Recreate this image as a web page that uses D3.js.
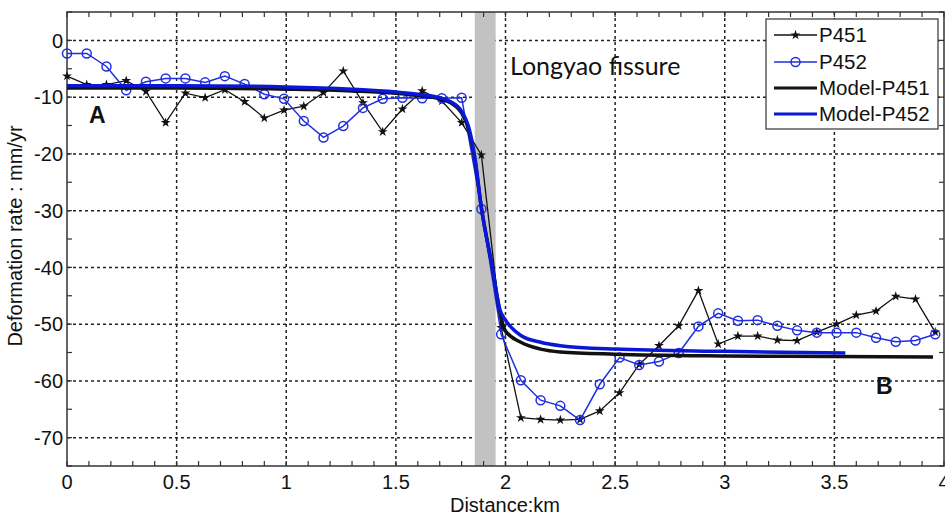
<!DOCTYPE html>
<html>
<head>
<meta charset="utf-8">
<script src="https://cdn.jsdelivr.net/npm/d3@7"></script>
<style>
  body { margin: 0; background: #fff; }
  svg { display: block; }
  text { font-family: "Liberation Sans", Arial, sans-serif; fill: #111; }
</style>
</head>
<body>
<div id="chart"></div>
<script>
// distance along profile (km), sampled points
var dist = [0.00,0.09,0.18,0.27,0.36,0.45,0.54,0.63,0.72,0.81,0.90,0.99,1.08,1.17,1.26,1.35,1.44,1.53,1.62,1.71,1.80,1.89,1.98,2.07,2.16,2.25,2.34,2.43,2.52,2.61,2.70,2.79,2.88,2.97,3.06,3.15,3.24,3.33,3.42,3.51,3.60,3.69,3.78,3.87,3.96];

var p451 = [-6.3,-7.8,-7.8,-7.1,-9.0,-14.5,-9.3,-10.1,-8.7,-10.8,
            -13.7,-12.3,-11.6,-9.2,-5.4,-11.0,-16.1,-12.1,-8.9,-10.7,
            -14.5,-20.2,-50.6,-66.5,-66.8,-66.9,-66.8,-65.3,-62.1,-57.1,
            -53.8,-50.3,-44.1,-53.5,-52.1,-52.1,-52.8,-52.9,-51.4,-50.0,
            -48.4,-47.7,-45.1,-45.6,-51.4];

var p452 = [-2.3,-2.3,-4.6,-8.8,-7.3,-6.7,-6.7,-7.4,-6.3,-7.7,
            -9.5,-10.3,-14.2,-17.1,-15.1,-11.9,-10.3,-10.1,-10.2,-10.2,
            -10.1,-29.7,-51.8,-59.9,-63.4,-64.4,-66.9,-60.6,-55.9,-57.2,
            -56.6,-55.1,-50.4,-48.1,-49.4,-49.3,-50.3,-51.1,-51.5,-51.5,
            -51.5,-52.4,-53.1,-52.9,-51.8];

// model curves
var modelX451 = [0,0.5,1.0,1.3,1.5,1.6,1.7,1.75,1.8,1.83,1.86,1.89,1.94,1.975,2.0,2.07,2.16,2.25,2.5,3.0,3.5,3.95];
var model451  = [-8.4,-8.4,-8.6,-8.9,-9.3,-9.7,-10.3,-11.0,-12.8,-15.5,-21,-29.5,-40,-48,-51.2,-53.2,-54.4,-54.9,-55.3,-55.6,-55.7,-55.8];
var modelX452 = [0,0.5,1.0,1.3,1.5,1.6,1.7,1.75,1.8,1.83,1.86,1.89,1.94,1.975,2.0,2.07,2.16,2.25,2.5,3.0,3.55];
var model452  = [-8.0,-8.0,-8.2,-8.6,-9.1,-9.5,-10.1,-10.8,-12.5,-15.0,-20.5,-29.5,-40,-47.5,-49.3,-52.0,-53.2,-53.8,-54.4,-54.8,-55.1];

var fissure = [1.86, 1.955];

var xTicks = [0,0.5,1,1.5,2,2.5,3,3.5,4];
var xTickLabels = ["0","0.5","1","1.5","2","2.5","3","3.5","4"];
var yTicks = [0,-10,-20,-30,-40,-50,-60,-70];

var legendItems = ["P451","P452","Model-P451","Model-P452"];

var black = "#111", blue = "#1f2ee0", modelBlue = "#0b17d6";

var outerWidth = 945, outerHeight = 515,
    plotL = 67, plotR = 944, plotT = 12, plotB = 466;

var x = d3.scaleLinear().domain([0, 4]).range([plotL, plotR]);
var y = d3.scaleLinear().domain([-75, 5]).range([plotB, plotT]);

var svg = d3.select("#chart").append("svg")
    .attr("width", outerWidth)
    .attr("height", outerHeight);

// grid
var grid = svg.append("g")
    .attr("stroke", "#222")
    .attr("stroke-width", 1.5)
    .attr("stroke-dasharray", "3,3");
grid.selectAll(".vg").data(xTicks.slice(1, -1)).enter().append("line")
    .attr("x1", function(d) { return x(d); }).attr("x2", function(d) { return x(d); })
    .attr("y1", plotT).attr("y2", plotB);
grid.selectAll(".hg").data(yTicks).enter().append("line")
    .attr("x1", plotL).attr("x2", plotR)
    .attr("y1", function(d) { return y(d); }).attr("y2", function(d) { return y(d); });

// fissure band
svg.append("rect")
    .attr("x", x(fissure[0]))
    .attr("width", x(fissure[1]) - x(fissure[0]))
    .attr("y", plotT).attr("height", plotB - plotT)
    .attr("fill", "#c2c2c2");

// ticks (inward, all four sides)
var minorX = d3.range(0, 41).map(function(i) { return i / 10; });
var minorY = d3.range(-75, 6, 5);
var ticks = svg.append("g").attr("stroke", "#333").attr("stroke-width", 1.2);
minorX.forEach(function(d) {
    ticks.append("line").attr("x1", x(d)).attr("x2", x(d)).attr("y1", plotB).attr("y2", plotB - 5);
    ticks.append("line").attr("x1", x(d)).attr("x2", x(d)).attr("y1", plotT).attr("y2", plotT + 5);
});
minorY.forEach(function(d) {
    ticks.append("line").attr("y1", y(d)).attr("y2", y(d)).attr("x1", plotL).attr("x2", plotL + 5);
    ticks.append("line").attr("y1", y(d)).attr("y2", y(d)).attr("x1", plotR).attr("x2", plotR - 5);
});

// frame
svg.append("rect")
    .attr("x", plotL).attr("y", plotT)
    .attr("width", plotR - plotL).attr("height", plotB - plotT)
    .attr("fill", "none").attr("stroke", "#333").attr("stroke-width", 1.5);

// tick labels
svg.selectAll(".xl").data(xTicks).enter().append("text")
    .attr("x", function(d) { return x(d); })
    .attr("y", 489)
    .attr("text-anchor", "middle")
    .style("font-size", "20px")
    .text(function(d, i) { return xTickLabels[i]; });

svg.selectAll(".yl").data(yTicks).enter().append("text")
    .attr("x", 63)
    .attr("y", function(d) { return y(d); })
    .attr("dy", "0.36em")
    .attr("text-anchor", "end")
    .style("font-size", "20px")
    .text(function(d) { return d; });

// axis titles
svg.append("text")
    .attr("x", 505).attr("y", 512)
    .attr("text-anchor", "middle")
    .style("font-size", "20px")
    .text("Distance:km");

svg.append("text")
    .attr("transform", "translate(22,236) rotate(-90)")
    .attr("text-anchor", "middle")
    .style("font-size", "20px")
    .text("Deformation rate : mm/yr");

// data lines
var line = d3.line()
    .x(function(d) { return x(d[0]); })
    .y(function(d) { return y(d[1]); });

var s451 = dist.map(function(d, i) { return [d, p451[i]]; });
var s452 = dist.map(function(d, i) { return [d, p452[i]]; });

svg.append("path").datum(s451)
    .attr("d", line).attr("fill", "none")
    .attr("stroke", black).attr("stroke-width", 1.3);
svg.selectAll(".m451").data(s451).enter().append("path")
    .attr("transform", function(d) { return "translate(" + x(d[0]) + "," + y(d[1]) + ")"; })
    .attr("d", d3.symbol().type(d3.symbolStar).size(30))
    .attr("fill", black);

svg.append("path").datum(s452)
    .attr("d", line).attr("fill", "none")
    .attr("stroke", blue).attr("stroke-width", 1.5);
svg.selectAll(".m452").data(s452).enter().append("circle")
    .attr("cx", function(d) { return x(d[0]); })
    .attr("cy", function(d) { return y(d[1]); })
    .attr("r", 4.5)
    .attr("fill", "none")
    .attr("stroke", blue).attr("stroke-width", 1.5);

// model curves
var smooth = d3.line().curve(d3.curveMonotoneX)
    .x(function(d) { return x(d[0]); })
    .y(function(d) { return y(d[1]); });

svg.append("path")
    .datum(modelX451.map(function(d, i) { return [d, model451[i]]; }))
    .attr("d", smooth).attr("fill", "none")
    .attr("stroke", black).attr("stroke-width", 3.5);
svg.append("path")
    .datum(modelX452.map(function(d, i) { return [d, model452[i]]; }))
    .attr("d", smooth).attr("fill", "none")
    .attr("stroke", modelBlue).attr("stroke-width", 3.5);

// annotations
svg.append("text")
    .attr("x", 510).attr("y", 75)
    .style("font-family", "Lato, 'Open Sans', sans-serif")
    .style("font-size", "25px")
    .text("Longyao fissure");

svg.append("text")
    .attr("x", 89).attr("y", 123)
    .style("font-size", "23px").style("font-weight", "bold")
    .text("A");

svg.append("text")
    .attr("x", 876).attr("y", 394)
    .style("font-size", "23px").style("font-weight", "bold")
    .text("B");

// legend
var lg = svg.append("g");
lg.append("rect")
    .attr("x", 766).attr("y", 19)
    .attr("width", 172).attr("height", 110)
    .attr("fill", "#fff").attr("stroke", "#333").attr("stroke-width", 1.2);

var rowY = [35, 62, 88, 114];
var rowColor = [black, blue, black, modelBlue];
var rowWidth = [1.3, 1.5, 3, 3];
legendItems.forEach(function(name, i) {
    lg.append("line")
        .attr("x1", 774).attr("x2", 817)
        .attr("y1", rowY[i]).attr("y2", rowY[i])
        .attr("stroke", rowColor[i]).attr("stroke-width", rowWidth[i]);
    lg.append("text")
        .attr("x", 819).attr("y", rowY[i])
        .attr("dy", "0.36em")
        .style("font-size", "20.5px")
        .text(name);
});
lg.append("path")
    .attr("transform", "translate(795.5," + rowY[0] + ")")
    .attr("d", d3.symbol().type(d3.symbolStar).size(30))
    .attr("fill", black);
lg.append("circle")
    .attr("cx", 795.5).attr("cy", rowY[1]).attr("r", 4.5)
    .attr("fill", "none").attr("stroke", blue).attr("stroke-width", 1.5);
</script>
</body>
</html>
